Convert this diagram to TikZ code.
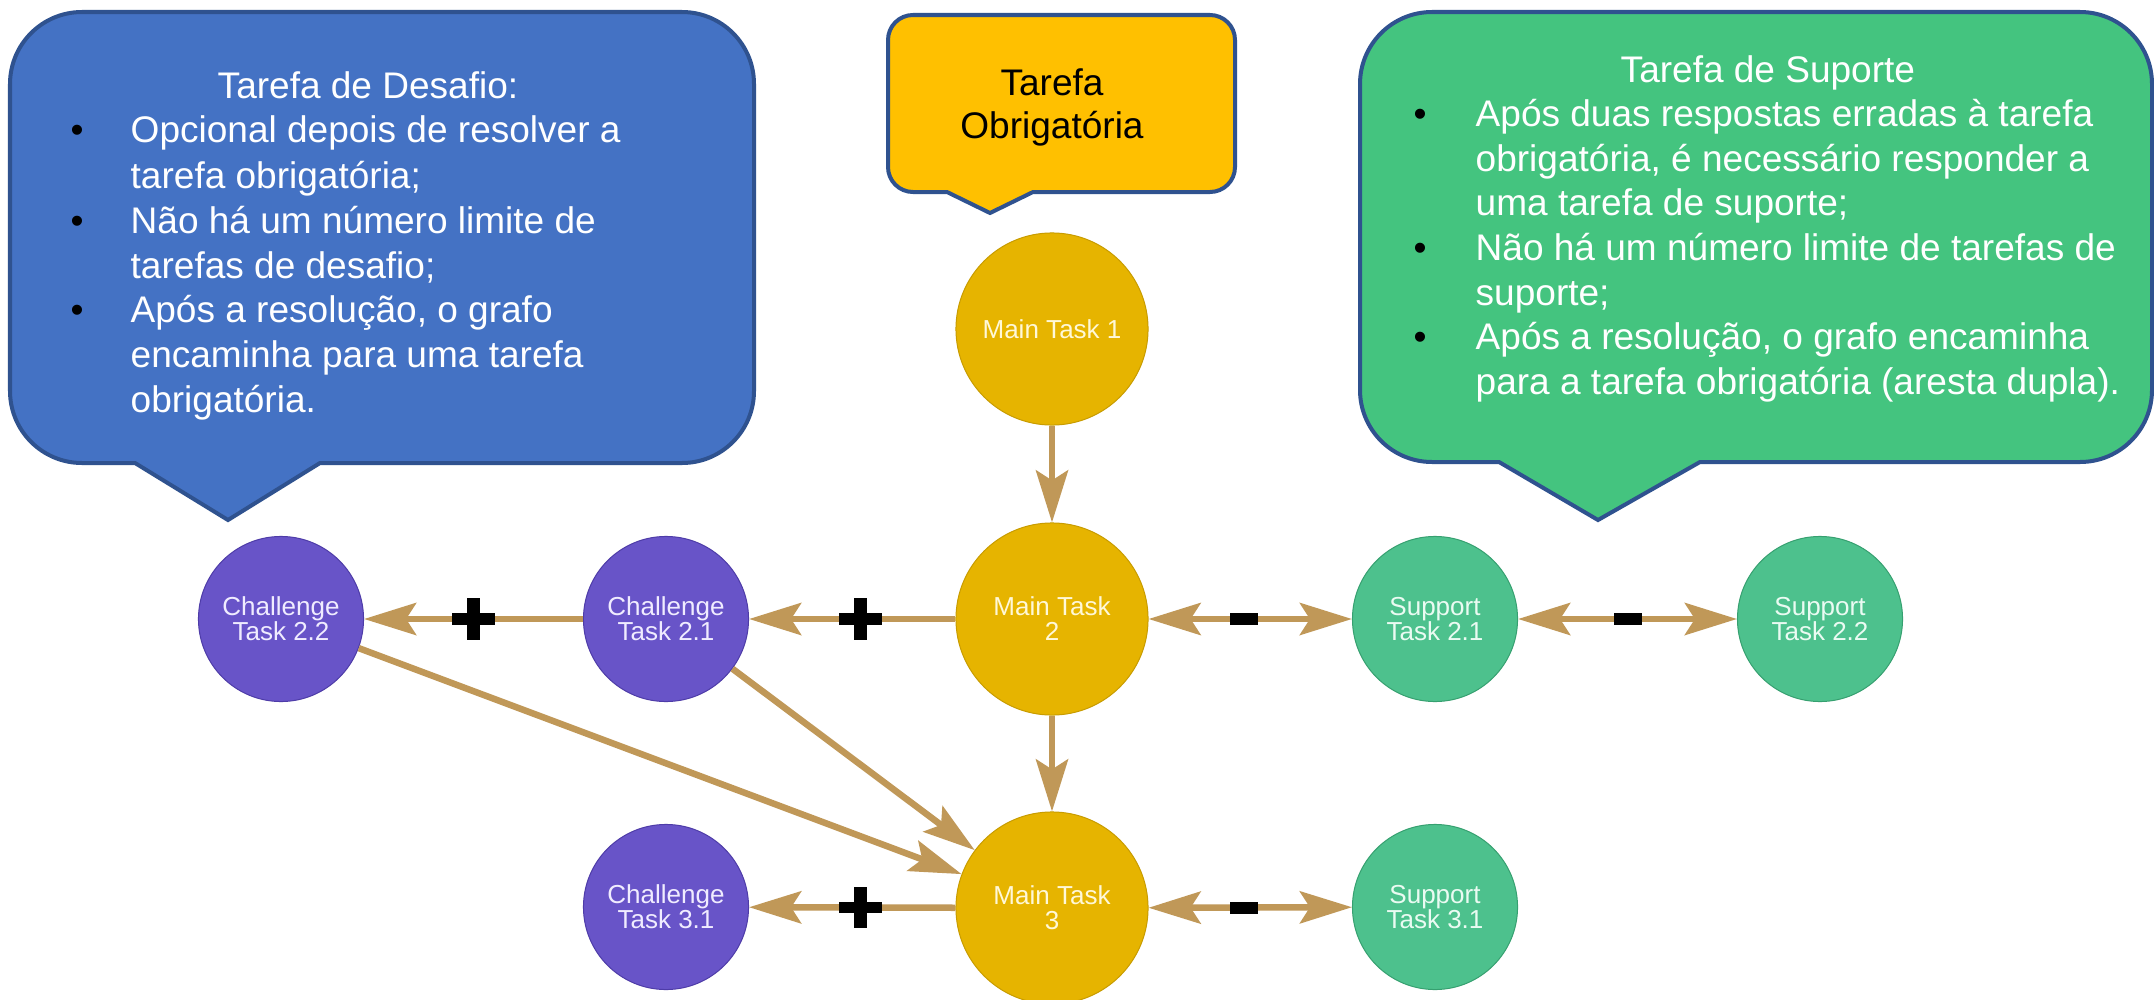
\documentclass[tikz,border=0pt]{standalone}
\usepackage{fontspec}
\setmainfont{Liberation Sans}
\usetikzlibrary{arrows.meta}
\definecolor{bluefill}{HTML}{4472C4}
\definecolor{outlineblue}{HTML}{2F528F}
\definecolor{greenfill}{HTML}{44C47F}
\definecolor{yellowfill}{HTML}{FFC000}
\definecolor{purplenode}{HTML}{6854C8}
\definecolor{purpleline}{HTML}{4E3CA8}
\definecolor{goldnode}{HTML}{E6B400}
\definecolor{goldline}{HTML}{C89C00}
\definecolor{greennode}{HTML}{4DC18D}
\definecolor{greenline}{HTML}{36A070}
\definecolor{arrowc}{HTML}{C09858}
\definecolor{chaltext}{HTML}{F0ECFF}
\definecolor{goldtext}{HTML}{FFF8D8}
\definecolor{supptext}{HTML}{EAFBF2}
\newcommand\calloutfnt{\fontsize{10.53pt}{12.8pt}\selectfont}
\newcommand\nodefnt{\fontsize{7.4pt}{7.1pt}\selectfont}
\begin{document}
\begin{tikzpicture}[x=0.01cm, y=-0.01cm,
  callout/.style={line width=0.04cm, draw=outlineblue, line join=miter},
  ctext/.style={anchor=base west, inner sep=0pt, font=\calloutfnt, text=white},
  bul/.style={anchor=base west, inner sep=0pt, font=\calloutfnt, text=black},
  ytext/.style={anchor=base, inner sep=0pt, font=\calloutfnt, text=black},
  task/.style={circle, inner sep=0pt, align=center, font=\nodefnt, line width=0.01cm},
  mainT/.style={task, minimum size=1.92cm, fill=goldnode, draw=goldline, text=goldtext},
  chal/.style={task, minimum size=1.65cm, fill=purplenode, draw=purpleline, text=chaltext},
  supp/.style={task, minimum size=1.65cm, fill=greennode, draw=greenline, text=supptext},
  tip/.style={Stealth[length=0.52cm, width=0.32cm, inset=0.1cm]},
  conn/.style={draw=arrowc, line width=0.065cm, -{Stealth[length=0.52cm, width=0.32cm, inset=0.1cm]}},
  dconn/.style={draw=arrowc, line width=0.065cm, {Stealth[length=0.52cm, width=0.32cm, inset=0.1cm]}-{Stealth[length=0.52cm, width=0.32cm, inset=0.1cm]}},
  plussign/.style={inner sep=0pt, minimum size=0.43cm, path picture={
    \fill[black] ([xshift=-0.215cm,yshift=-0.058cm]path picture bounding box.center) rectangle ++(0.43cm,0.116cm);
    \fill[black] ([xshift=-0.065cm,yshift=-0.205cm]path picture bounding box.center) rectangle ++(0.13cm,0.41cm);}},
  minussign/.style={rectangle, fill=black, inner sep=0pt, minimum width=0.28cm, minimum height=0.12cm}
]
\useasboundingbox (0,0) rectangle (2154,1000);
\clip (0,0) rectangle (2154,1000);
\fill[white] (0,0) rectangle (2154,1000);

% blue callout
\path[callout, fill=bluefill] (135,463) -- (82,463) arc[start angle=90, end angle=180, radius=72]
  -- (10,84) arc[start angle=180, end angle=270, radius=72]
  -- (682,12) arc[start angle=270, end angle=360, radius=72]
  -- (754,391) arc[start angle=0, end angle=90, radius=72]
  -- (320,463) -- (228,520) -- cycle;
% green callout
\path[callout, fill=greenfill] (1499,462) -- (1432,462) arc[start angle=90, end angle=180, radius=72]
  -- (1360,84) arc[start angle=180, end angle=270, radius=72]
  -- (2080,12) arc[start angle=270, end angle=360, radius=72]
  -- (2152,390) arc[start angle=0, end angle=90, radius=72]
  -- (1700,462) -- (1598,520) -- cycle;
% yellow callout
\path[callout, fill=yellowfill] (947,192) -- (913,192) arc[start angle=90, end angle=180, radius=25]
  -- (888,40) arc[start angle=180, end angle=270, radius=25]
  -- (1210,15) arc[start angle=270, end angle=360, radius=25]
  -- (1235,167) arc[start angle=0, end angle=90, radius=25]
  -- (1033,192) -- (990,213) -- cycle;

% blue text
\node[ctext] (b0) at (217,98) {Tarefa de Desafio:};
\node[bul] (bb1) at (70,143) {•};
\node[ctext] (b1) at (130,143) {Opcional depois de resolver a};
\node[ctext] (b2) at (130,188) {tarefa obrigatória;};
\node[bul] (bb2) at (70,233) {•};
\node[ctext] (b3) at (130,233) {Não há um número limite de};
\node[ctext] (b4) at (130,278) {tarefas de desafio;};
\node[bul] (bb3) at (70,322) {•};
\node[ctext] (b5) at (130,322) {Após a resolução, o grafo};
\node[ctext] (b6) at (130,367) {encaminha para uma tarefa};
\node[ctext] (b7) at (130,412) {obrigatória.};

% yellow text
\node[ytext] (y1) at (1052,95) {Tarefa};
\node[ytext] (y2) at (1052,138) {Obrigatória};

% green text
\node[ctext] (g0) at (1620,82) {Tarefa de Suporte};
\node[bul] (gb1) at (1413,126) {•};
\node[ctext] (g1) at (1475,126) {Após duas respostas erradas à tarefa};
\node[ctext] (g2) at (1475,171) {obrigatória, é necessário responder a};
\node[ctext] (g3) at (1475,215) {uma tarefa de suporte;};
\node[bul] (gb2) at (1413,260) {•};
\node[ctext] (g4) at (1475,260) {Não há um número limite de tarefas de};
\node[ctext] (g5) at (1475,305) {suporte;};
\node[bul] (gb3) at (1413,349) {•};
\node[ctext] (g6) at (1475,349) {Após a resolução, o grafo encaminha};
\node[ctext] (g7) at (1475,394) {para a tarefa obrigatória (aresta dupla).};

% task nodes
\node[mainT] (mt1) at (1052,329) {Main Task 1};
\node[mainT] (mt2) at (1052,619) {Main Task\\2};
\node[mainT] (mt3) at (1052,908) {Main Task\\3};
\node[chal] (ct22) at (281,619) {Challenge\\Task 2.2};
\node[chal] (ct21) at (666,619) {Challenge\\Task 2.1};
\node[chal] (ct31) at (666,907) {Challenge\\Task 3.1};
\node[supp] (st21) at (1435,619) {Support\\Task 2.1};
\node[supp] (st22) at (1820,619) {Support\\Task 2.2};
\node[supp] (st31) at (1435,907) {Support\\Task 3.1};

% connectors
\draw[conn] (mt1) -- (mt2);
\draw[conn] (mt2) -- node[plussign, pos=0.46] (p1) {} (ct21);
\draw[conn] (ct21) -- node[plussign] (p2) {} (ct22);
\draw[dconn] (mt2) -- node[minussign, pos=0.47] (m1) {} (st21);
\draw[dconn] (st21) -- node[minussign] (m2) {} (st22);
\draw[conn] (mt2) -- (mt3);
\draw[conn] (ct21) -- (mt3);
\draw[conn] (ct22) -- (mt3);
\draw[conn] (mt3) -- node[plussign, pos=0.46] (p3) {} (ct31);
\draw[dconn] (mt3) -- node[minussign, pos=0.47] (m3) {} (st31);
\end{tikzpicture}
\end{document}
